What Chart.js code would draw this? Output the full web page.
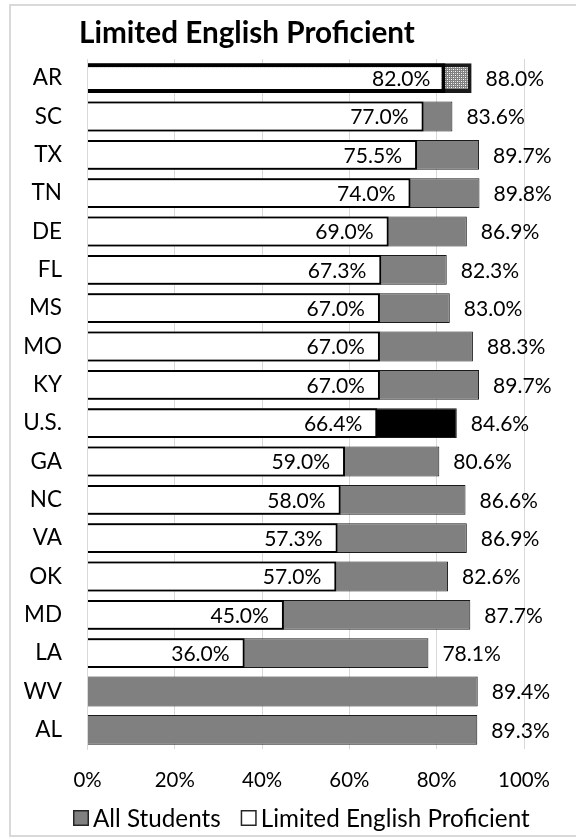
<!DOCTYPE html>
<html>
<head>
<meta charset="utf-8">
<script src="https://cdn.jsdelivr.net/npm/chart.js@4.4.1/dist/chart.umd.min.js"></script>
<style>
html,body{margin:0;padding:0;background:#fff;overflow:hidden}
#wrap{position:relative;width:576px;height:839px}
#frame{position:absolute;left:9px;top:4px;width:620px;height:833px;border:2px solid #d9d9d9;box-sizing:border-box}
#c{position:absolute;left:0;top:0}
</style>
</head>
<body>
<div id="wrap"><div id="frame"></div><canvas id="c" width="576" height="839"></canvas></div>
<script>
// ---- data ----
const states = ['AR','SC','TX','TN','DE','FL','MS','MO','KY','U.S.','GA','NC','VA','OK','MD','LA','WV','AL'];
const allStudents = [88.0,83.6,89.7,89.8,86.9,82.3,83.0,88.3,89.7,84.6,80.6,86.6,86.9,82.6,87.7,78.1,89.4,89.3];
const lepRates = [82.0,77.0,75.5,74.0,69.0,67.3,67.0,67.0,67.0,66.4,59.0,58.0,57.3,57.0,45.0,36.0,null,null];
const xTickValues = [0,20,40,60,80,100];
const seriesNames = ['All Students','Limited English Proficient'];
const titleText = 'Limited English Proficient';
const highlightState = 'AR';
const nationalRow = 'U.S.';

// ---- fonts fitted to reference text widths ----
const FAMILY = 'Lato, "Open Sans", sans-serif';
const mctx = document.createElement('canvas').getContext('2d');
function fit(text, weight, target){
  mctx.font = weight + ' 100px ' + FAMILY;
  return 100 * target / mctx.measureText(text).width;
}
const TITLE_FS = fit(titleText, 'bold', 336);
const LEGEND_FS = fit(seriesNames[0] + ' ' + seriesNames[1], 'normal', 126 + 272 + 5);
const VALUE_FS = fit('84.6%89.3%', 'normal', 117);
const TICK_FS = fit('100%80%', 'normal', 52 + 40);

const canvas = document.getElementById('c');
const ctx = canvas.getContext('2d');

function dotPattern(){
  const p = document.createElement('canvas');
  p.width = 4; p.height = 4;
  const g = p.getContext('2d');
  g.fillStyle = '#808080'; g.fillRect(0,0,4,4);
  g.fillStyle = '#ffffff'; g.fillRect(1,1,1,1); g.fillRect(3,3,1,1);
  g.fillStyle = '#d0d0d0'; g.fillRect(3,1,1,1); g.fillRect(1,3,1,1);
  return ctx.createPattern(p, 'repeat');
}
const dots = dotPattern();

const allColors = states.map(s => s === highlightState ? dots : (s === nationalRow ? '#000000' : '#808080'));
const allBorders = states.map(s => s === highlightState ? 4 : 1);
const lepBorders = states.map(s => s === highlightState ? 4 : 2);

const PLOT_LEFT = 87.5, PLOT_RIGHT = 524, PLOT_TOP = 59, PLOT_BOTTOM = 749;
const XAXIS_H = 50;

const labelPlugin = {
  id: 'valueLabels',
  afterDatasetsDraw(chart){
    const c = chart.ctx;
    c.save();
    c.font = VALUE_FS + 'px ' + FAMILY;
    c.fillStyle = '#000';
    c.textBaseline = 'middle';
    const mAll = chart.getDatasetMeta(0), mLep = chart.getDatasetMeta(1);
    mAll.data.forEach((bar, i) => {
      const v = allStudents[i];
      if (v == null) return;
      c.textAlign = 'left';
      c.fillText(v.toFixed(1) + '%', bar.x + 14, bar.y + 1);
    });
    mLep.data.forEach((bar, i) => {
      const v = lepRates[i];
      if (v == null) return;
      c.textAlign = 'right';
      c.fillText(v.toFixed(1) + '%', bar.x - 15, bar.y + 1);
    });
    c.restore();
  }
};

const titleLegendPlugin = {
  id: 'titleLegend',
  afterDraw(chart){
    const c = chart.ctx;
    c.save();
    c.fillStyle = '#000';
    c.font = 'bold ' + TITLE_FS + 'px ' + FAMILY;
    c.textAlign = 'left';
    c.textBaseline = 'alphabetic';
    c.fillText(titleText, 79, 43);
    // legend
    c.font = LEGEND_FS + 'px ' + FAMILY;
    c.textBaseline = 'middle';
    const fills = ['#808080', '#ffffff'];
    let x = 73;
    const cy = 818, box = 16;
    seriesNames.forEach((name, i) => {
      c.fillStyle = fills[i];
      c.fillRect(x, cy - box/2, box, box);
      c.strokeStyle = '#262626';
      c.lineWidth = 1.5;
      c.strokeRect(x + 0.75, cy - box/2 + 0.75, box - 1.5, box - 1.5);
      c.fillStyle = '#000';
      c.fillText(name, x + box + 4, cy + 1);
      x += box + 4 + c.measureText(name).width + 20;
    });
    c.restore();
  }
};

new Chart(ctx, {
  type: 'bar',
  data: {
    labels: states,
    datasets: [
      {
        label: seriesNames[0],
        data: allStudents,
        backgroundColor: allColors,
        borderColor: '#1a1a1a',
        borderWidth: allBorders,
        grouped: false,
        order: 2,
        barPercentage: 0.78,
        categoryPercentage: 1
      },
      {
        label: seriesNames[1],
        data: lepRates,
        backgroundColor: '#ffffff',
        borderColor: '#000000',
        borderWidth: lepBorders,
        grouped: false,
        order: 1,
        barPercentage: 0.78,
        categoryPercentage: 1
      }
    ]
  },
  options: {
    indexAxis: 'y',
    responsive: false,
    animation: false,
    devicePixelRatio: 1,
    layout: { padding: { top: PLOT_TOP, right: 576 - PLOT_RIGHT, bottom: 839 - PLOT_BOTTOM - XAXIS_H, left: 0 } },
    plugins: { legend: { display: false }, title: { display: false }, tooltip: { enabled: false } },
    scales: {
      x: {
        min: 0, max: 100,
        afterBuildTicks(scale){ scale.ticks = xTickValues.map(v => ({ value: v })); },
        afterFit(scale){ scale.height = XAXIS_H; },
        grid: { color: '#d9d9d9', lineWidth: 1, drawTicks: false },
        border: { display: false },
        ticks: {
          callback: v => v + '%',
          color: '#000',
          font: { family: FAMILY, size: TICK_FS },
          padding: 31 - TICK_FS * 0.6,
          maxRotation: 0
        }
      },
      y: {
        afterFit(scale){ scale.width = PLOT_LEFT; },
        grid: { display: false, drawTicks: false },
        border: { display: true, color: '#d9d9d9', width: 1 },
        ticks: {
          color: '#000',
          font: { family: FAMILY, size: TICK_FS * 1.1 },
          padding: 25.5
        }
      }
    }
  },
  plugins: [labelPlugin, titleLegendPlugin]
});
</script>
</body>
</html>
